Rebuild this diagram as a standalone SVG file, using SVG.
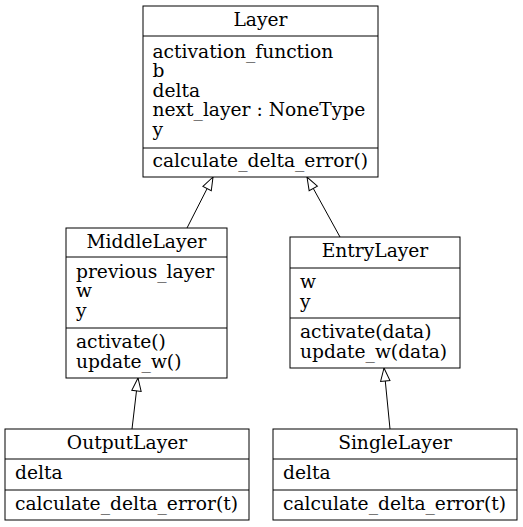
<svg xmlns="http://www.w3.org/2000/svg" width="523" height="527" viewBox="0 0 523 527">
<style>
.box{fill:#fff;stroke:#000;stroke-width:1}
.sep{stroke:#000;stroke-width:1}
text{font-family:"DejaVu Serif",serif;font-size:18.67px;fill:#000}
.t{text-anchor:middle}
.edge{fill:none;stroke:#000;stroke-width:1;marker-end:url(#inh)}
</style>
<defs>
<marker id="inh" markerWidth="16" markerHeight="12" refX="14" refY="6" orient="auto" markerUnits="userSpaceOnUse" overflow="visible">
<path d="M14,6 L1,1.3 L1,10.7 Z" fill="#fff" stroke="#000" stroke-width="1"/>
</marker>
</defs>
<rect width="523" height="527" fill="#fff"/>
<g id="connectors">
<path class="edge" d="M187,228 L213,177"/>
<path class="edge" d="M340,237 L307,177"/>
<path class="edge" d="M132,429 L138,378"/>
<path class="edge" d="M390,429 L384,368"/>
</g>
<g id="Layer">
<rect class="box" x="143" y="6" width="235" height="171"/>
<line class="sep" x1="143" y1="36" x2="378" y2="36"/>
<line class="sep" x1="143" y1="148" x2="378" y2="148"/>
<text class="t" x="260.5" y="25.75">Layer</text>
<text x="152.5" y="57.75">activation_function</text>
<text x="152.5" y="77.25">b</text>
<text x="152.5" y="96.75">delta</text>
<text x="152.5" y="116.25">next_layer : NoneType</text>
<text x="152.5" y="135.75">y</text>
<text x="152.5" y="167.25">calculate_delta_error()</text>
</g>
<g id="MiddleLayer">
<rect class="box" x="66" y="228" width="161" height="150"/>
<line class="sep" x1="66" y1="257" x2="227" y2="257"/>
<line class="sep" x1="66" y1="328" x2="227" y2="328"/>
<text class="t" x="146.5" y="247.5">MiddleLayer</text>
<text x="76" y="277.75">previous_layer</text>
<text x="76" y="297.25">w</text>
<text x="76" y="316.75">y</text>
<text x="76" y="348">activate()</text>
<text x="76" y="367.5">update_w()</text>
</g>
<g id="EntryLayer">
<rect class="box" x="290" y="237" width="170" height="131"/>
<line class="sep" x1="290" y1="268" x2="460" y2="268"/>
<line class="sep" x1="290" y1="318" x2="460" y2="318"/>
<text class="t" x="375" y="257.25">EntryLayer</text>
<text x="300" y="288">w</text>
<text x="300" y="307.5">y</text>
<text x="300" y="338">activate(data)</text>
<text x="300" y="357.5">update_w(data)</text>
</g>
<g id="OutputLayer">
<rect class="box" x="5" y="429" width="244" height="91"/>
<line class="sep" x1="5" y1="459" x2="249" y2="459"/>
<line class="sep" x1="5" y1="490" x2="249" y2="490"/>
<text class="t" x="127" y="448.75">OutputLayer</text>
<text x="15" y="479.25">delta</text>
<text x="15" y="509.75">calculate_delta_error(t)</text>
</g>
<g id="SingleLayer">
<rect class="box" x="273" y="429" width="244" height="91"/>
<line class="sep" x1="273" y1="459" x2="517" y2="459"/>
<line class="sep" x1="273" y1="490" x2="517" y2="490"/>
<text class="t" x="395" y="448.75">SingleLayer</text>
<text x="283" y="479.25">delta</text>
<text x="283" y="509.75">calculate_delta_error(t)</text>
</g>
</svg>
